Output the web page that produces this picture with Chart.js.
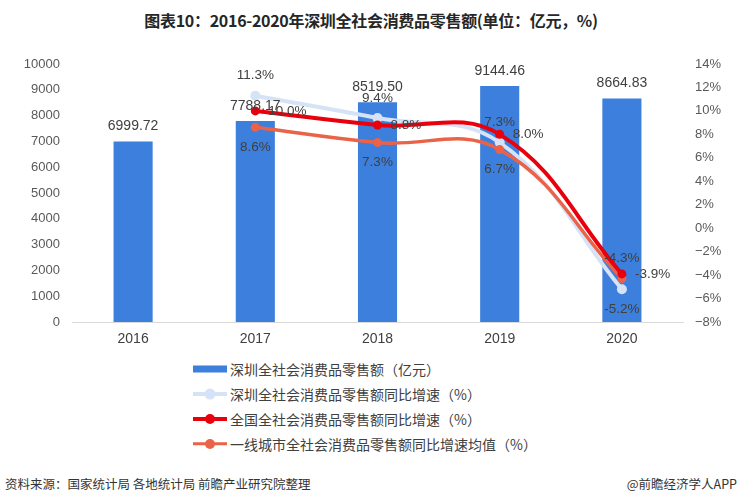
<!DOCTYPE html>
<html>
<head>
<meta charset="utf-8">
<script src="https://cdn.jsdelivr.net/npm/chart.js@4/dist/chart.umd.min.js"></script>
<style>
  html, body { margin: 0; padding: 0; background: #fff; }
  body { width: 742px; height: 503px; position: relative; overflow: hidden; font-family: "Noto Sans CJK SC", "Noto Sans", sans-serif; }
  #title { position: absolute; top: 8px; left: 0; width: 742px; text-align: center; font-size: 16px; font-weight: 700; color: #262626; letter-spacing: -0.3px; }
  #wrap { position: absolute; top: 0; left: 0; width: 742px; height: 350px; }
  #legend { position: absolute; left: 193px; top: 356px; }
  .li { height: 25px; display: flex; align-items: center; font-size: 14px; color: #404040; }
  .mk { width: 34px; height: 12px; position: relative; margin-right: 3px; }
  .mk .ln { position: absolute; left: 0; right: 0; top: 50%; transform: translateY(-50%); }
  .mk .dt { position: absolute; left: 50%; top: 50%; transform: translate(-50%,-50%); border-radius: 50%; }
  #src { position: absolute; left: 5px; top: 474px; font-size: 12.5px; color: #333; }
  #app { position: absolute; right: 5px; top: 474px; font-size: 12.5px; color: #333; }
</style>
</head>
<body>
<div id="title">图表10：2016-2020年深圳全社会消费品零售额(单位：亿元，%)</div>
<div id="wrap"><canvas id="c" width="742" height="350"></canvas></div>
<div id="legend"></div>
<div id="src">资料来源：国家统计局 各地统计局 前瞻产业研究院整理</div>
<div id="app">@前瞻经济学人APP</div>
<script>
// ---- data ----
const categories = ['2016', '2017', '2018', '2019', '2020'];
const retailSales = [6999.72, 7788.17, 8519.50, 9144.46, 8664.83];     // 亿元
const szGrowth = [null, 11.3, 9.4, 7.3, -5.2];                          // %
const nationalGrowth = [null, 10.0, 8.8, 8.0, -3.9];                    // %
const tier1Growth = [null, 8.6, 7.3, 6.7, -4.3];                        // %
const leftAxis = { min: 0, max: 10000, step: 1000 };
const rightAxis = { min: -8, max: 14, step: 2 };

const seriesNames = [
  '深圳全社会消费品零售额（亿元）',
  '深圳全社会消费品零售额同比增速（%）',
  '全国全社会消费品零售额同比增速（%）',
  '一线城市全社会消费品零售额同比增速均值（%）'
];

// label placement per series (style, not data)
const labelPlacement = {
  0: ['top', 'top', 'top', 'top', 'top'],
  1: ['top', 'top', 'top', 'top', 'bottom'],
  2: ['right', 'right', 'right', 'right', 'right'],
  3: ['bottom', 'bottom', 'bottom', 'bottom', 'top']
};

const colors = { bar: '#3d7fdc', sz: '#d6e3f6', nat: '#e8000d', t1: '#ea6349' };

const labelPlugin = {
  id: 'valueLabels',
  afterDatasetsDraw(chart) {
    const ctx = chart.ctx;
    ctx.save();
    ctx.fillStyle = '#404040';
    chart.data.datasets.forEach((ds, di) => {
      const meta = chart.getDatasetMeta(di);
      meta.data.forEach((el, i) => {
        const v = ds.data[i];
        if (v === null || v === undefined) return;
        const pos = labelPlacement[di][i];
        let txt, x = el.x, y = el.y;
        if (di === 0) {
          txt = v.toFixed(2);
          ctx.font = '14px "Liberation Sans", Arial, sans-serif';
        } else {
          txt = v.toFixed(1) + '%';
          ctx.font = '13.5px "Liberation Sans", Arial, sans-serif';
        }
        ctx.textBaseline = 'middle';
        if (pos === 'top') { ctx.textAlign = 'center'; y -= (di === 0 ? 15 : 20); }
        else if (pos === 'bottom') { ctx.textAlign = 'center'; y += 20; }
        else if (pos === 'right') { ctx.textAlign = 'left'; x += 13; }
        ctx.fillText(txt, x, y);
      });
    });
    ctx.restore();
  }
};

const tickFont = { size: 13, family: '"Liberation Sans", Arial, sans-serif' };

const chart = new Chart(document.getElementById('c'), {
  data: {
    labels: categories,
    datasets: [
      { type: 'bar', label: seriesNames[0], data: retailSales, yAxisID: 'y', backgroundColor: colors.bar,
        barPercentage: 0.32, categoryPercentage: 1, order: 10 },
      { type: 'line', label: seriesNames[1], data: szGrowth, yAxisID: 'y1', borderColor: colors.sz, backgroundColor: colors.sz,
        borderWidth: 4, pointRadius: 5, pointBackgroundColor: colors.sz, pointBorderWidth: 0, tension: 0.4, order: 3 },
      { type: 'line', label: seriesNames[2], data: nationalGrowth, yAxisID: 'y1', borderColor: colors.nat, backgroundColor: colors.nat,
        borderWidth: 4, pointRadius: 4.5, pointBackgroundColor: colors.nat, pointBorderWidth: 0, tension: 0.4, order: 1 },
      { type: 'line', label: seriesNames[3], data: tier1Growth, yAxisID: 'y1', borderColor: colors.t1, backgroundColor: colors.t1,
        borderWidth: 3.5, pointRadius: 4.5, pointBackgroundColor: colors.t1, pointBorderWidth: 0, tension: 0.4, order: 2 }
    ]
  },
  options: {
    responsive: false,
    animation: false,
    devicePixelRatio: 1,
    layout: { padding: { top: 64, left: 0, right: 0, bottom: 0 } },
    plugins: { legend: { display: false }, tooltip: { enabled: false }, title: { display: false } },
    scales: {
      x: {
        grid: { display: false, drawTicks: false },
        border: { display: true, color: '#d9d9d9', width: 1 },
        ticks: { color: '#404040', padding: 9, font: { size: 14, family: tickFont.family } },
        afterFit(s) { s.height = 28; }
      },
      y: {
        position: 'left', min: leftAxis.min, max: leftAxis.max,
        grid: { display: false, drawTicks: false },
        border: { display: false },
        ticks: { stepSize: leftAxis.step, color: '#595959', padding: 12, font: tickFont,
          callback: (v) => String(v) },
        afterFit(s) { s.width = 72; }
      },
      y1: {
        position: 'right', min: rightAxis.min, max: rightAxis.max,
        grid: { display: false, drawTicks: false },
        border: { display: false },
        ticks: { stepSize: rightAxis.step, color: '#595959', padding: 12, font: tickFont,
          callback: (v) => (v < 0 ? '−' + Math.abs(v) : v) + '%' },
        afterFit(s) { s.width = 59; }
      }
    }
  },
  plugins: [labelPlugin]
});

// HTML legend built from datasets
const lg = document.getElementById('legend');
chart.data.datasets.forEach((ds) => {
  const row = document.createElement('div');
  row.className = 'li';
  const mk = document.createElement('div');
  mk.className = 'mk';
  if (ds.type === 'bar') {
    mk.innerHTML = '<div class="ln" style="height:7px;background:' + ds.backgroundColor + '"></div>';
  } else {
    const d = ds.pointRadius * 2 + 1;
    mk.innerHTML = '<div class="ln" style="height:' + ds.borderWidth + 'px;background:' + ds.borderColor + '"></div>' +
      '<div class="dt" style="width:' + d + 'px;height:' + d + 'px;background:' + ds.borderColor + '"></div>';
  }
  const t = document.createElement('span');
  t.textContent = ds.label;
  row.appendChild(mk);
  row.appendChild(t);
  lg.appendChild(row);
});
</script>
</body>
</html>
